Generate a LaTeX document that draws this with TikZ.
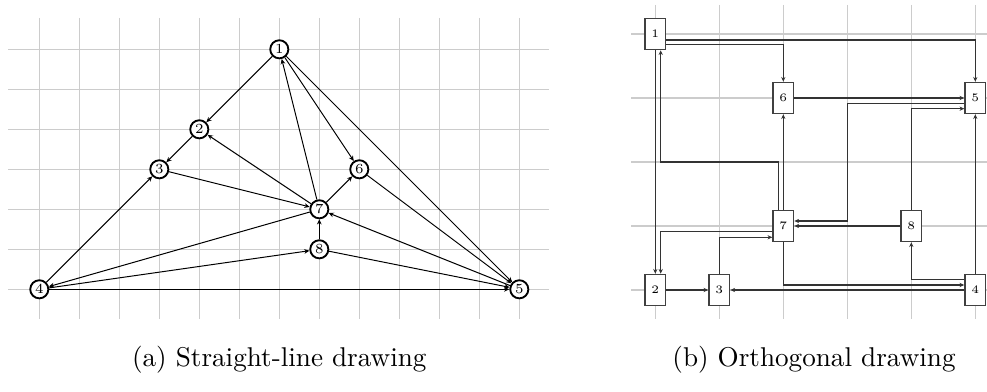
\documentclass[tikz,border=0pt]{standalone}
\usetikzlibrary{arrows.meta,calc}
\begin{document}
\begin{tikzpicture}[x=0.4032pt,y=-0.4032pt,
  gridline/.style={gray!40,line width=0.6pt},
  cnode/.style={circle,draw=black,line width=0.75pt,fill=white,minimum size=7.3pt,inner sep=0pt,font=\fontsize{5.6}{6}\selectfont},
  bnode/.style={rectangle,draw=black!75,line width=0.55pt,fill=white,minimum width=8.35pt,minimum height=12.6pt,inner sep=0pt,font=\fontsize{4.6}{5}\selectfont},
  arr/.style={-{Stealth[length=2.1pt,width=1.9pt]},line width=0.4pt,black},
  oarr/.style={-{Stealth[length=1.9pt,width=1.7pt]},line width=0.45pt,black!80},
  captext/.style={font=\fontsize{10.95}{13}\selectfont}]
\useasboundingbox (0,0) rectangle (987,392);
% ---- grid (a)
\foreach \i in {0,...,12} \draw[gridline] (39.3+40*\i,18) -- (39.3+40*\i,319);
\foreach \j in {0,...,6} \draw[gridline] (8,49.3+40*\j) -- (549,49.3+40*\j);
% ---- nodes (a)
\node[cnode] (a1) at (279.3,49.3) {1};
\node[cnode] (a2) at (199.3,129.3) {2};
\node[cnode] (a3) at (159.3,169.3) {3};
\node[cnode] (a4) at (39.3,289.3) {4};
\node[cnode] (a5) at (519.3,289.3) {5};
\node[cnode] (a6) at (359.3,169.3) {6};
\node[cnode] (a7) at (319.3,209.3) {7};
\node[cnode] (a8) at (319.3,249.3) {8};
% ---- edges (a)
\draw[arr] (a1) -- (a2);
\draw[arr] (a2) -- (a3);
\draw[arr] (a4) -- (a3);
\draw[arr] (a3) -- (a7);
\draw[arr] (a7) -- (a2);
\draw[arr] (a7) -- (a1);
\draw[arr] (a1) -- (a6);
\draw[arr] (a1) -- (a5);
\draw[arr] (a7) -- (a6);
\draw[arr] (a6) -- (a5);
\draw[arr] (a7) -- (a4);
\draw[arr] (a4) -- (a8);
\draw[arr] (a4) -- (a5);
\draw[arr] (a8) -- (a7);
\draw[arr] (a8) -- (a5);
\draw[arr] (a5) -- (a7);
% ---- grid (b)
\foreach \i in {0,...,5} \draw[gridline] (655.3+64*\i,5) -- (655.3+64*\i,319);
\foreach \j in {0,...,4} \draw[gridline] (631,34+64*\j) -- (987,34+64*\j);
% ---- nodes (b)
\node[bnode] (b1) at (655.3,34) {1};
\node[bnode] (b6) at (783.3,98) {6};
\node[bnode] (b5) at (975.3,98) {5};
\node[bnode] (b7) at (783.3,226) {7};
\node[bnode] (b8) at (911.3,226) {8};
\node[bnode] (b2) at (655.3,290) {2};
\node[bnode] (b3) at (719.3,290) {3};
\node[bnode] (b4) at (975.3,290) {4};
% ---- edges (b)
\draw[oarr] ($(b1.east)+(0,6)$) -| (b5.north);
\draw[oarr] ($(b1.east)+(0,10.7)$) -| (b6.north);
\draw[oarr] (b1.south) -- (b2.north);
\draw[oarr] ($(b7.north)+(-5,0)$) |- ($(b1)+(5.4,128)$) -- ($(b1.south)+(5.4,0)$);
\draw[oarr] ($(b7.west)+(0,5.7)$) -| ($(b2.north)+(5.4,0)$);
\draw[oarr] (b3.north) |- ($(b7.west)+(0,11.3)$);
\draw[oarr] (b7.north) -- (b6.south);
\draw[oarr] (b6.east) -- (b5.west);
\draw[oarr] ($(b5.west)+(0,5.7)$) -| ($(b7)+(64,-5)$) -- ($(b7.east)+(0,-5)$);
\draw[oarr] (b8.west) -- (b7.east);
\draw[oarr] (b8.north) |- ($(b5.west)+(0,10.7)$);
\draw[oarr] ($(b4.west)+(0,-10.7)$) -| (b8.south);
\draw[oarr] (b7.south) |- ($(b4.west)+(0,-5)$);
\draw[oarr] (b4.west) -- (b3.east);
\draw[oarr] (b2.east) -- (b3.west);
\draw[oarr] (b4.north) -- (b5.south);
% ---- captions
\node[captext] (capa) at (279.3,360) {(a) Straight-line drawing};
\node[captext] (capb) at (814,360) {(b) Orthogonal drawing};
\end{tikzpicture}
\end{document}
